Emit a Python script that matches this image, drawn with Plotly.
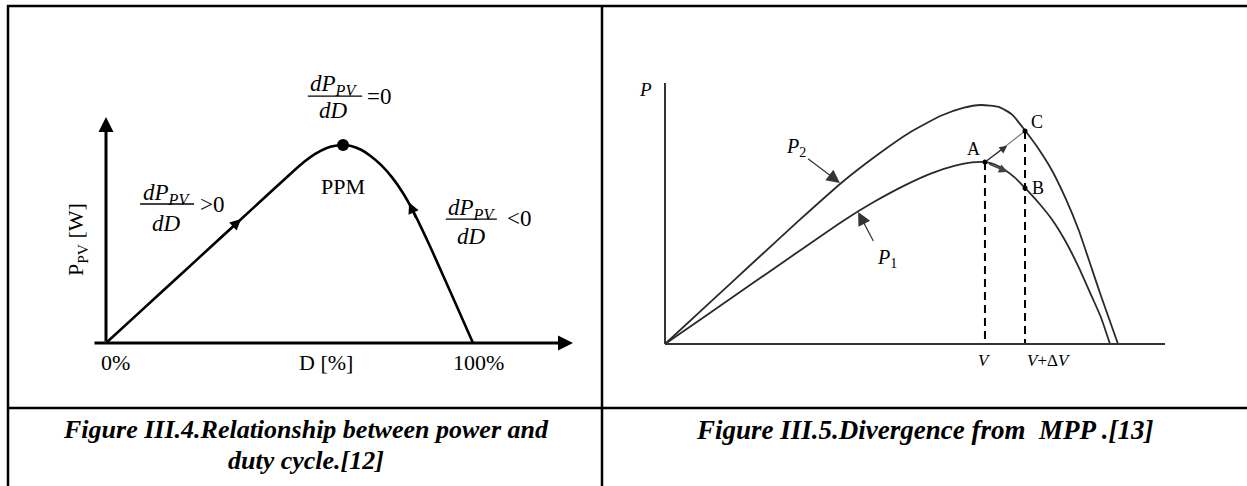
import plotly.graph_objects as go

W, H = 1247, 486

# ---------------- Left diagram data (D in %, P_PV in arbitrary units, peak = 100)
duty_pct = [0, 10, 20, 30, 40, 50, 54, 57, 60, 62.5, 64.6, 67, 69.5, 72, 75, 78, 81, 84, 88, 92, 96, 100]
p_pv = [0, 17, 34, 51, 68, 85, 91.5, 95.5, 98.4, 99.6, 100, 99.4, 97.6, 94.6, 89.8, 83.5, 75.5, 65.5, 50, 33.5, 16.8, 0]
mpp_left = (64.6, 100)
left_ticks = ["0%", "D [%]", "100%"]
left_tick_pos = [2.5, 59.9, 101.6]

# ---------------- Right diagram data (V arbitrary, P arbitrary, P2 peak = 100)
v_p2 = [0, 10, 20, 30, 40, 48, 55, 62, 67, 71, 75, 78, 81, 84, 87, 90, 93, 96, 98, 101.8]
p2 = [0, 17.2, 34.4, 51.5, 68, 79.5, 88.5, 95.5, 98.8, 100, 99.2, 96, 89.1, 81.5, 72.5, 61, 47.5, 31, 20, 0]
v_p1 = [0, 10, 20, 30, 40, 47, 54, 60, 65, 69, 71.9, 74, 76.2, 78.5, 80.9, 84, 87, 90, 93, 96, 98, 100]
p1 = [0, 12.9, 25.8, 38.7, 51.5, 59.5, 66.5, 71.5, 74.5, 76, 76.1, 75.2, 73, 69.8, 65.3, 59, 52, 43, 32, 19.5, 11, 0]
pt_names = ["A", "B", "C"]
pt_v = [71.9, 80.9, 80.9]
pt_p = [76.1, 65.3, 89.1]
v_labels = ["<i>V</i>", "<i>V</i>+Δ<i>V</i>"]
v_label_pos = [71.9, 86.3]

# ---------------- pixel helpers for layout
def px(x):
    return x / W

def py(y):
    return 1 - y / H

# left axes mapping: origin at pixel (106,343), 3.67 px per %, 1.98 px per unit
LX0, LY0, LSX, LSY = 106, 343, 3.67, 1.98
# right axes mapping: origin at pixel (665,344), 4.45 px per unit, 2.39 px per unit
RX0, RY0, RSX, RSY = 665, 344, 4.45, 2.39

ldom_x = (60, 595)
ldom_y = (60, 395)
rdom_x = (625, 1210)
rdom_y = (60, 395)

fig = go.Figure()

BLACK = "#000000"
GREY = "#2a2a2a"

# left curve
fig.add_trace(go.Scatter(x=duty_pct, y=p_pv, mode="lines", line=dict(color=BLACK, width=2.6, shape="spline", smoothing=0.5),
                         xaxis="x", yaxis="y", hoverinfo="skip", showlegend=False))
fig.add_trace(go.Scatter(x=[mpp_left[0]], y=[mpp_left[1]], mode="markers", marker=dict(color=BLACK, size=12),
                         xaxis="x", yaxis="y", hoverinfo="skip", showlegend=False))

# right curves
fig.add_trace(go.Scatter(x=v_p2, y=p2, mode="lines", line=dict(color=GREY, width=1.8, shape="spline", smoothing=0.5),
                         xaxis="x2", yaxis="y2", hoverinfo="skip", showlegend=False))
fig.add_trace(go.Scatter(x=v_p1, y=p1, mode="lines", line=dict(color=GREY, width=1.8, shape="spline", smoothing=0.5),
                         xaxis="x2", yaxis="y2", hoverinfo="skip", showlegend=False))
# dashed verticals from A and C
fig.add_trace(go.Scatter(x=[pt_v[0], pt_v[0]], y=[pt_p[0], 0], mode="lines", line=dict(color=BLACK, width=2, dash="8px,5px"),
                         xaxis="x2", yaxis="y2", hoverinfo="skip", showlegend=False))
fig.add_trace(go.Scatter(x=[pt_v[2], pt_v[2]], y=[pt_p[2], 0], mode="lines", line=dict(color=BLACK, width=2, dash="8px,5px"),
                         xaxis="x2", yaxis="y2", hoverinfo="skip", showlegend=False))
# A -> C line
fig.add_trace(go.Scatter(x=[pt_v[0], pt_v[2]], y=[pt_p[0], pt_p[2]], mode="lines", line=dict(color="#777777", width=1.2),
                         xaxis="x2", yaxis="y2", hoverinfo="skip", showlegend=False))
fig.add_trace(go.Scatter(x=pt_v, y=pt_p, mode="markers", marker=dict(color=BLACK, size=5),
                         xaxis="x2", yaxis="y2", hoverinfo="skip", showlegend=False))

annotations = []
shapes = []

SERIF = "Liberation Serif"

def ann(x, y, text, size, xref="x", yref="y", **kw):
    d = dict(x=x, y=y, xref=xref, yref=yref, text=text, showarrow=False,
             xanchor="center", yanchor="middle",
             font=dict(family=SERIF, size=size, color=BLACK))
    d.update(kw)
    annotations.append(d)

def arrow(x, y, ax, ay, xref="x", yref="y", width=2.5, head=2, size=1.0, color=BLACK):
    annotations.append(dict(x=x, y=y, ax=ax, ay=ay, xref=xref, yref=yref, axref=xref, ayref=yref,
                            text="", showarrow=True, arrowhead=head, arrowwidth=width, arrowsize=size,
                            arrowcolor=color, standoff=0, startstandoff=0))

# ---------- left axes (arrows)
arrow(0, (LY0 - 117) / LSY, 0, 0, width=3, head=2, size=1.0)
arrow((573 - LX0) / LSX, 0, (93 - LX0) / LSX, 0, width=3, head=2, size=1.0)
# arrows along left curve
arrow(36.8, 62.6, 30.5, 51.9, width=2, head=2, size=1.1)
arrow(82.6, 71.0, 84.6, 62.5, width=2, head=2, size=1.1)

# left tick labels
for t, xp in zip(left_ticks, left_tick_pos):
    ann(xp, -9.8, t, 22)
ann(-7.9, 52, "P<sub>PV</sub> [W]", 22, textangle=-90)
ann(64.6, 78.8, "PPM", 22)

NUM = "<i>dP</i><sub><i>PV</i></sub>"
DEN = "<i>dD</i>"

def fraction(xc, y_num, y_bar, y_den, x0, x1, rel_text, rel_x, rel_y, xref="x", yref="y"):
    ann(xc, y_num, NUM, 23, xref=xref, yref=yref)
    ann(xc, y_den, DEN, 23, xref=xref, yref=yref)
    ann(rel_x, rel_y, rel_text, 23, xref=xref, yref=yref)
    shapes.append(dict(type="line", xref=xref, yref=yref, x0=x0, x1=x1, y0=y_bar, y1=y_bar,
                       line=dict(color=BLACK, width=1.3)))

fraction(62.1, 130.3, 124.7, 117.2, 55.0, 69.8, "=0", 74.5, 124.7)
fraction(16.6, 75.3, 70.2, 60.6, 9.3, 24.0, "&gt;0", 29.0, 69.7)
fraction(99.6, 67.7, 62.6, 53.9, 92.6, 106.5, "&lt;0", 112.4, 63.0)

# ---------- right axes
shapes.append(dict(type="line", xref="x2", yref="y2", x0=0, x1=0, y0=0, y1=(RY0 - 83) / RSY,
                   line=dict(color="#333333", width=2)))
shapes.append(dict(type="line", xref="x2", yref="y2", x0=0, x1=(1165 - RX0) / RSX, y0=0, y1=0,
                   line=dict(color="#333333", width=2)))
ann(-4.3, 106.5, "<i>P</i>", 19, xref="x2", yref="y2")
for t, xp in zip(v_labels, v_label_pos):
    ann(xp, -6.9, t, 17, xref="x2", yref="y2")
label_off = {"A": (-2.6, 5.5), "B": (3.0, 0.0), "C": (2.6, 3.8)}
for n, v, p in zip(pt_names, pt_v, pt_p):
    dx, dy = label_off[n]
    ann(v + dx, p + dy, n, 18, xref="x2", yref="y2")
ann(29.4, 82.4, "<i>P</i><sub>2</sub>", 20, xref="x2", yref="y2")
ann(49.8, 35.8, "<i>P</i><sub>1</sub>", 20, xref="x2", yref="y2")
# pointer arrows
arrow(39.3, 67.4, 31.8, 78.0, xref="x2", yref="y2", width=1.2, head=2, size=2.2, color="#333333")
arrow(43.4, 55.2, 47.0, 42.5, xref="x2", yref="y2", width=1.2, head=2, size=2.2, color="#333333")
# A->C and A->B direction arrows
arrow(76.9, 83.0, 71.9, 76.1, xref="x2", yref="y2", width=1.2, head=2, size=1.3, color="#333333")
arrow(77.0, 72.0, 72.5, 75.6, xref="x2", yref="y2", width=1.6, head=2, size=1.1, color="#444444")

# ---------- captions
ann(px(306), py(429), "<b><i>Figure III.4.Relationship between power and</i></b>", 26, xref="paper", yref="paper")
ann(px(306), py(460), "<b><i>duty cycle.[12]</i></b>", 26, xref="paper", yref="paper")
ann(px(924), py(430), "<b><i>Figure III.5.Divergence from  MPP .[13]</i></b>", 27, xref="paper", yref="paper")

# ---------- table borders
tbl = dict(color=BLACK, width=2.5)
shapes += [
    dict(type="line", xref="paper", yref="paper", x0=px(7), x1=1.01, y0=py(6), y1=py(6), line=tbl),
    dict(type="line", xref="paper", yref="paper", x0=px(8), x1=px(8), y0=py(5), y1=-0.01, line=tbl),
    dict(type="line", xref="paper", yref="paper", x0=px(602), x1=px(602), y0=py(6), y1=-0.01, line=tbl),
    dict(type="line", xref="paper", yref="paper", x0=px(8), x1=1.01, y0=py(408), y1=py(408), line=tbl),
]

def axis_common():
    return dict(visible=False, showgrid=False, zeroline=False, fixedrange=True)

fig.update_layout(
    width=W, height=H, margin=dict(l=0, r=0, t=0, b=0),
    paper_bgcolor="white", plot_bgcolor="rgba(0,0,0,0)",
    showlegend=False,
    xaxis=dict(domain=[px(ldom_x[0]), px(ldom_x[1])],
               range=[(ldom_x[0] - LX0) / LSX, (ldom_x[1] - LX0) / LSX], **axis_common()),
    yaxis=dict(domain=[py(ldom_y[1]), py(ldom_y[0])],
               range=[(LY0 - ldom_y[1]) / LSY, (LY0 - ldom_y[0]) / LSY], **axis_common()),
    xaxis2=dict(domain=[px(rdom_x[0]), px(rdom_x[1])], anchor="y2",
                range=[(rdom_x[0] - RX0) / RSX, (rdom_x[1] - RX0) / RSX], **axis_common()),
    yaxis2=dict(domain=[py(rdom_y[1]), py(rdom_y[0])], anchor="x2",
                range=[(RY0 - rdom_y[1]) / RSY, (RY0 - rdom_y[0]) / RSY], **axis_common()),
    annotations=annotations,
    shapes=shapes,
)

fig.write_html("out.html", config={"displayModeBar": False},
               post_script="document.body.style.margin='0px';document.body.style.overflow='hidden';")
